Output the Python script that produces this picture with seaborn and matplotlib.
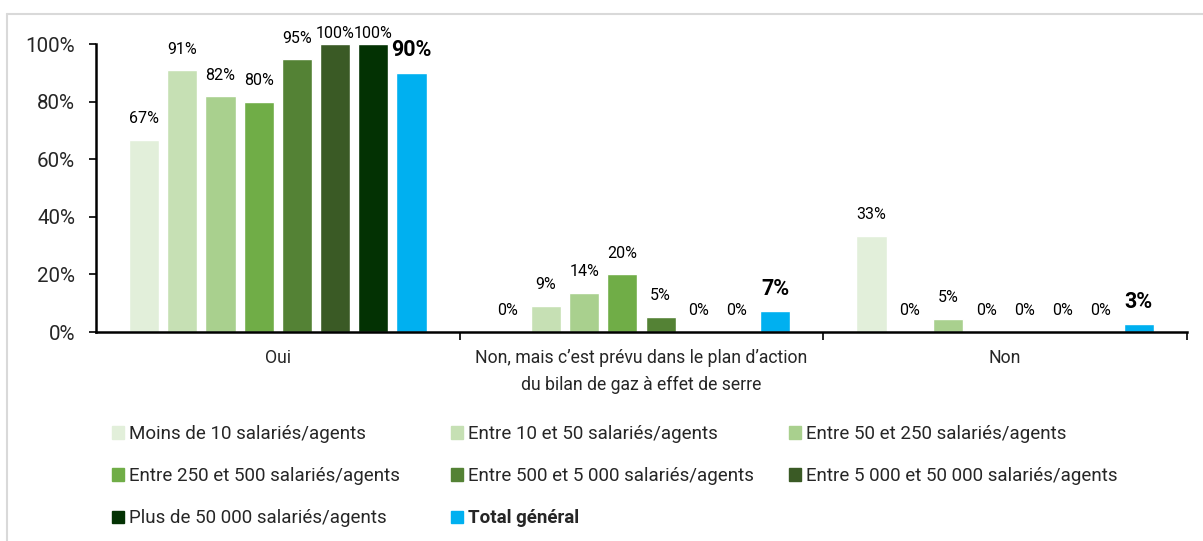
import pandas as pd
import seaborn as sns
from matplotlib import pyplot as plt
from matplotlib.lines import Line2D
from matplotlib.ticker import FuncFormatter

# Data
categories = ['Oui',
              'Non, mais c’est prévu dans le plan d’action\ndu bilan de gaz à effet de serre',
              'Non']
sizes = ['Moins de 10 salariés/agents', 'Entre 10 et 50 salariés/agents',
         'Entre 50 et 250 salariés/agents', 'Entre 250 et 500 salariés/agents',
         'Entre 500 et 5 000 salariés/agents', 'Entre 5 000 et 50 000 salariés/agents',
         'Plus de 50 000 salariés/agents', 'Total général']
oui = [66.7, 90.9, 81.8, 80.0, 94.7, 100.0, 100.0, 90.1]
non_prevu = [0.0, 9.1, 13.6, 20.0, 5.3, 0.0, 0.0, 7.2]
non = [33.3, 0.0, 4.6, 0.0, 0.0, 0.0, 0.0, 2.7]
colors = ['#E2EFDA', '#C6E0B4', '#A9D08E', '#70AD47', '#548235', '#3A5A25', '#033203', '#00B0F0']

rows = []
for cat, vals in zip(categories, [oui, non_prevu, non]):
    for s, v in zip(sizes, vals):
        rows.append({'Réponse': cat, 'Taille': s, 'Part': v})
df = pd.DataFrame(rows)

sns.set_style('white')
plt.rcParams['font.family'] = ['Roboto', 'DejaVu Sans']

fig = plt.figure(figsize=(12.03, 5.41), dpi=100)
ax = fig.add_axes([96 / 1203, 1 - 332 / 541, (1187 - 96) / 1203, (332 - 44) / 541])

sns.barplot(data=df, x='Réponse', y='Part', hue='Taille', order=categories,
            hue_order=sizes, palette=colors, width=0.84, gap=0.21,
            saturation=1, legend=False, ax=ax)

# value labels (kept inside the plot area near 100%, like Excel does)
pt_per_unit = (332 - 44) / 100 * 72 / fig.dpi
for i, cont in enumerate(ax.containers):
    total = sizes[i] == 'Total général'
    for bar in cont:
        h = bar.get_height()
        off = min(12, (100 - h) * pt_per_unit + 4.5)
        ax.annotate(f'{round(h)}%', (bar.get_x() + bar.get_width() / 2, h),
                    xytext=(0, off), textcoords='offset points', ha='center',
                    va='baseline', fontsize=15.5 if total else 11.5,
                    fontweight='bold' if total else 'normal', color='black',
                    annotation_clip=False)

ax.set_ylim(0, 100)
ax.set_xlim(-0.5, 2.5)
ax.set_yticks(range(0, 101, 20))
ax.yaxis.set_major_formatter(FuncFormatter(lambda v, p: f'{v:.0f}%'))
ax.tick_params(axis='y', labelsize=14.8, length=5, width=1.2, color='black', left=True, pad=10)
ax.set_xticks([0, 1, 2])
ax.set_xticklabels(categories, fontsize=12.7, linespacing=1.65)
ax.set_xticks([0.5, 1.5, 2.5], minor=True)
ax.tick_params(axis='x', which='major', length=0, pad=12)
ax.tick_params(axis='x', which='minor', length=6, width=1.2, color='black', bottom=True)
ax.set_xlabel('')
ax.set_ylabel('')
for side in ['top', 'right']:
    ax.spines[side].set_visible(False)
for side in ['left', 'bottom']:
    ax.spines[side].set_color('black')
    ax.spines[side].set_linewidth(1.8)

# legend, three columns placed like the original
handles = [plt.Rectangle((0, 0), 1, 1, color=c) for c in colors]
columns = [[0, 3, 6], [1, 4, 7], [2, 5]]
col_x = [112, 451, 789]
for idx, x in zip(columns, col_x):
    leg = fig.legend([handles[k] for k in idx], [sizes[k] for k in idx],
                     loc='upper left', bbox_to_anchor=(x / 1203, 1 - 425 / 541),
                     frameon=False, fontsize=13.5, borderpad=0, borderaxespad=0,
                     handlelength=0.64, handleheight=0.64, handletextpad=0.25,
                     labelspacing=1.29)
    for t in leg.get_texts():
        if t.get_text() == 'Total général':
            t.set_fontweight('bold')

# light grey frame (top and left edges)
fig.add_artist(Line2D([7 / 1203, 1], [1 - 14 / 541, 1 - 14 / 541], color='#d9d9d9', lw=1.5))
fig.add_artist(Line2D([7 / 1203, 7 / 1203], [0, 1 - 14 / 541], color='#d9d9d9', lw=1.5))

plt.savefig('out.png', dpi=100)
